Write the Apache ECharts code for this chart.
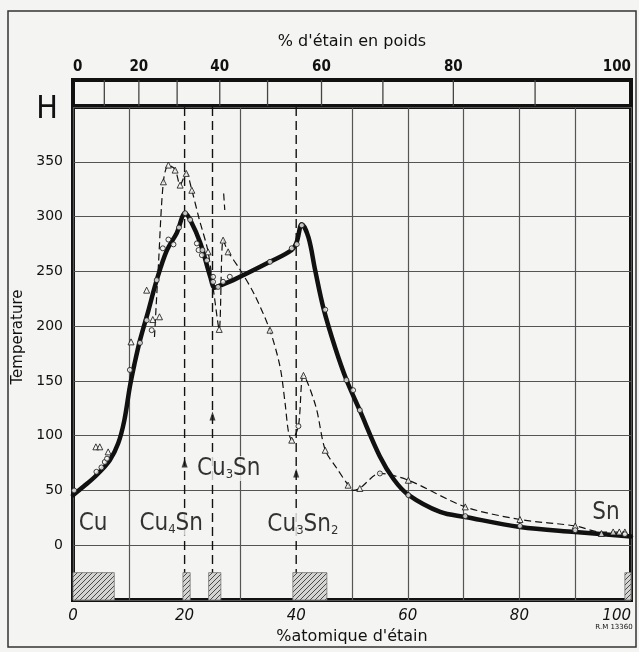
<!DOCTYPE html>
<html><head><meta charset="utf-8">
<script src="https://cdn.jsdelivr.net/npm/echarts@6/dist/echarts.min.js"></script>
<style>html,body{margin:0;padding:0;background:#f3f3f1}#c{width:639px;height:652px}</style>
</head><body><div id="c"></div>
<script>
// ---------- data ----------
const xTicksAtomic = [0, 20, 40, 60, 80, 100];
const yTicks = [0, 50, 100, 150, 200, 250, 300, 350];
const weightTickLabels = [0, 20, 40, 60, 80, 100];
const weightDividers = [10, 20, 30, 40, 50, 60, 70, 80, 90];

const solidCurve = [[0,45.7],[2,54],[4.2,63.9],[6.6,77.6],[8.1,93],[9.2,114],[10.2,145],[11,165],[12,187],[13.5,214],[15,242],[16.8,269],[18.6,285],[20.1,303],[21,297],[22.8,276],[24.6,245],[25.4,235],[26.3,237],[28.7,242],[35.3,258.7],[39.2,269.5],[40.1,277],[41,293],[42.2,281],[43.4,251],[44.9,216],[47,180],[49,151],[51.4,123],[55,81],[57.5,60],[60.1,46],[65.8,30.4],[70.3,25.8],[80.1,16.7],[90,12.1],[100,8]];

const dashedCurve = [[14.6,190],[15.3,255],[16.2,332],[17.1,347],[18.3,343],[19.2,329],[20.3,340],[21.3,324],[22.6,298],[24.2,268],[25.3,228],[26.2,197],[26.9,278.5],[27.8,268],[30,251],[32.5,229],[35.3,196],[37.1,163],[38,130],[38.6,104],[39.2,96],[40.4,109],[41.3,155],[43.5,127],[45.2,87],[47.3,70],[49.3,55],[50.2,50],[51.4,52],[55,65.5],[60.1,59.3],[70.3,35],[80.1,23.5],[90,17.6],[94.7,12],[98.9,12]];
const dashedStub = [[27.0,321],[27.2,306]];

const circlePoints = [[0.2,50],[4.2,67],[5.1,71],[5.7,76],[6.1,79],[10.2,160],[12,184.7],[13.2,205.4],[14.1,196.3],[15,242],[16.1,271],[17.1,279],[18,274.6],[19,290],[20.1,303],[21,297],[22.2,275.5],[22.5,269.4],[23.2,269.4],[23.1,264.8],[24,260],[25.1,245],[25.1,240.4],[26,235.8],[26.9,240.4],[28.1,245],[35.3,258.7],[39.2,271],[40.1,274.8],[41,292],[45.2,215],[49,150.7],[50.2,141.5],[51.4,123.3],[40.4,108.7],[55,65.5],[60.1,45.7],[70.3,26.5],[80.1,17.6],[90,13.7],[98.9,10]];

const trianglePoints = [[4.1,89.8],[4.8,89.8],[6.3,85.2],[10.4,185.6],[13.2,232.8],[14.3,206],[15.5,208.5],[16.2,331.7],[17.1,347],[18.3,342.4],[19.2,328.7],[20.3,339.4],[21.3,324],[24.2,267.8],[26.2,197],[26.9,278.5],[27.8,267.8],[35.3,196.3],[39.2,95.9],[41.3,155],[45.2,86.7],[49.3,54.8],[51.4,51.8],[60.1,59.3],[70.3,35],[80.1,23.5],[90,17.6],[94.7,10.7],[96.8,12.1],[97.9,12.1],[98.9,12.1]];

const compoundX = [20, 25, 40];
const arrowY = [75, 118, 66];
const hatchRanges = [[0,7.4],[19.7,21],[24.3,26.5],[39.4,45.5],[98.9,100]];
const hatchTop = -25;
const phaseLabels = [
  {pos:[3.6,20], text:'Cu'},
  {pos:[17.6,20], text:'Cu{s|4}Sn'},
  {pos:[27.9,70], text:'Cu{s|3}Sn'},
  {pos:[41.2,19], text:'Cu{s|3}Sn{s|2}'},
  {pos:[95.5,30], text:'Sn'}
];

// ---------- helpers ----------
const M_CU = 63.546, M_SN = 118.71;
function wtToAt(w){ if (w<=0) return 0; if (w>=100) return 100; const s=w/M_SN, c=(100-w)/M_CU; return 100*s/(s+c); }
function atToWt(a){ if (a<=0) return 0; if (a>=100) return 100; return 100*a*M_SN/(a*M_SN+(100-a)*M_CU); }

function hatchPattern(){
  const n=5, c=document.createElement('canvas'); c.width=n; c.height=n;
  const g=c.getContext('2d'); g.fillStyle='#d4d4d2'; g.fillRect(0,0,n,n);
  g.strokeStyle='#4a4a4a'; g.lineWidth=1;
  g.beginPath(); g.moveTo(0,n); g.lineTo(n,0); g.moveTo(-1,1); g.lineTo(1,-1); g.moveTo(n-1,n+1); g.lineTo(n+1,n-1); g.stroke();
  return c;
}
const pat = hatchPattern();

const INK = '#111';
const GRIDC = '#555';
const paper = '#f4f4f2';
const tickFont = 'DejaVu Sans';
const handFont = '"Liberation Sans Narrow","DejaVu Sans Condensed",sans-serif';

const splitColors = [0,10,20,30,40,50,60,70,80,90,100].map(v => (v===20||v===40) ? 'rgba(0,0,0,0)' : GRIDC);

const chart = echarts.init(document.getElementById('c'), null, {renderer:'canvas'});
const option = {
  backgroundColor: paper,
  animation: false,
  grid: [
    {left:73, right:8, top:107, bottom:52, show:true, borderColor:INK, borderWidth:4, backgroundColor:'transparent'},
    {left:73, right:8, top:80, height:26, show:true, borderColor:INK, borderWidth:4, backgroundColor:'transparent'}
  ],
  xAxis: [
    {type:'value', gridIndex:0, min:0, max:100, interval:10,
     axisLine:{show:false}, axisTick:{show:false},
     splitLine:{show:true, lineStyle:{color:splitColors, width:1.2}},
     axisLabel:{fontFamily:tickFont, fontSize:15, fontStyle:'italic', color:INK, margin:9,
       showMinLabel:true, showMaxLabel:true, alignMaxLabel:'right',
       formatter: v => xTicksAtomic.includes(v) ? String(v) : ''},
     name:"%atomique d'étain", nameLocation:'middle', nameGap:27,
     nameTextStyle:{fontFamily:tickFont, fontSize:16, color:INK}},
    {type:'value', gridIndex:1, position:'top', min:0, max:100,
     axisLine:{show:false}, axisTick:{show:false}, splitLine:{show:false},
     axisLabel:{customValues: weightTickLabels.map(wtToAt), fontFamily:'DejaVu Sans Condensed', fontWeight:'bold', fontSize:15, color:INK, margin:5,
       alignMinLabel:'left', alignMaxLabel:'right',
       formatter: v => String(Math.round(atToWt(v)))},
     name:"% d'étain en poids", nameLocation:'middle', nameGap:30,
     nameTextStyle:{fontFamily:tickFont, fontSize:16, color:INK}}
  ],
  yAxis: [
    {type:'value', gridIndex:0, min:-50, max:400, interval:50,
     axisLine:{show:false}, axisTick:{show:false},
     splitLine:{show:true, lineStyle:{color:GRIDC, width:1.2}},
     axisLabel:{fontFamily:tickFont, fontSize:14, color:INK, margin:10,
       formatter: v => yTicks.includes(v) ? String(v) : ''}},
    {type:'value', gridIndex:1, min:0, max:1, show:false}
  ],
  graphic: [
    {type:'rect', shape:{x:8, y:11, width:628, height:636}, style:{fill:'none', stroke:'#333', lineWidth:1.5}, silent:true, z:-1},
    {type:'text', x:47, y:110, style:{text:'H', fontFamily:'DejaVu Sans Condensed', fontSize:32, fill:INK, align:'center', verticalAlign:'middle'}},
    {type:'text', x:18, y:337, rotation:Math.PI/2, style:{text:'Temperature', fontFamily:tickFont, fontSize:15, fill:INK, align:'center', verticalAlign:'middle'}},
    {type:'text', x:614, y:627, style:{text:'R.M 13360', fontFamily:tickFont, fontSize:7, fill:INK, align:'center', verticalAlign:'middle'}}
  ],
  series: [
    {type:'custom', xAxisIndex:1, yAxisIndex:1, z:2, silent:true,
     data: weightDividers.map(w => [wtToAt(w)]),
     renderItem: (params, api) => {
       const a = api.coord([api.value(0), 0]);
       const b = api.coord([api.value(0), 1]);
       return {type:'line', shape:{x1:a[0], y1:a[1], x2:b[0], y2:b[1]}, style:{stroke:'#444', lineWidth:1.3}};
     }},
    {type:'custom', xAxisIndex:0, yAxisIndex:0, z:1, silent:true,
     data: hatchRanges.map(r => [r[0], r[1], hatchTop]),
     renderItem: (params, api) => {
       const p0 = api.coord([api.value(0), api.value(2)]);
       const p1 = api.coord([api.value(1), -50]);
       return {type:'rect', shape:{x:p0[0], y:p0[1], width:p1[0]-p0[0], height:p1[1]-p0[1]},
               style:{fill:{image:pat, repeat:'repeat'}, stroke:'#777', lineWidth:0.8}};
     }},
    ...compoundX.map(cx => ({type:'line', xAxisIndex:0, yAxisIndex:0, z:2, symbol:'none', silent:true,
       data:[[cx,400],[cx,hatchTop]], lineStyle:{color:INK, width:1.4, type:[9,5]}})),
    {type:'scatter', xAxisIndex:0, yAxisIndex:0, z:3, silent:true,
     data: compoundX.map((cx,i) => [cx, arrowY[i]]), symbol:'triangle', symbolSize:[6,9],
     itemStyle:{color:INK}},
    {type:'line', xAxisIndex:0, yAxisIndex:0, z:4, symbol:'none', smooth:0.3, silent:true,
     data: dashedCurve, lineStyle:{color:INK, width:1.2, type:[7,4]}},
    {type:'line', xAxisIndex:0, yAxisIndex:0, z:4, symbol:'none', silent:true,
     data: dashedStub, lineStyle:{color:INK, width:1.2, type:[7,4]}},
    {type:'line', xAxisIndex:0, yAxisIndex:0, z:5, symbol:'none', smooth:0.35, silent:true,
     data: solidCurve, lineStyle:{color:INK, width:4.5, cap:'round', join:'round'}},
    {type:'scatter', xAxisIndex:0, yAxisIndex:0, z:6, silent:true,
     data: trianglePoints, symbol:'triangle', symbolSize:6,
     itemStyle:{color:paper, borderColor:INK, borderWidth:1}},
    {type:'scatter', xAxisIndex:0, yAxisIndex:0, z:6, silent:true,
     data: circlePoints, symbol:'circle', symbolSize:5,
     itemStyle:{color:paper, borderColor:INK, borderWidth:1}},
    {type:'scatter', xAxisIndex:0, yAxisIndex:0, z:10, silent:true, symbolSize:0,
     data: phaseLabels.map(p => ({value:p.pos, text:p.text})),
     label:{show:true, position:'inside', color:'#000', fontFamily:handFont, fontSize:24,
       backgroundColor:paper, padding:[0,1],
       formatter: p => p.data.text,
       rich:{s:{fontFamily:handFont, fontSize:13, verticalAlign:'bottom', padding:[12,0,0,0], color:'#000'}}}}
  ]
};
chart.setOption(option);
</script>
</body></html>
